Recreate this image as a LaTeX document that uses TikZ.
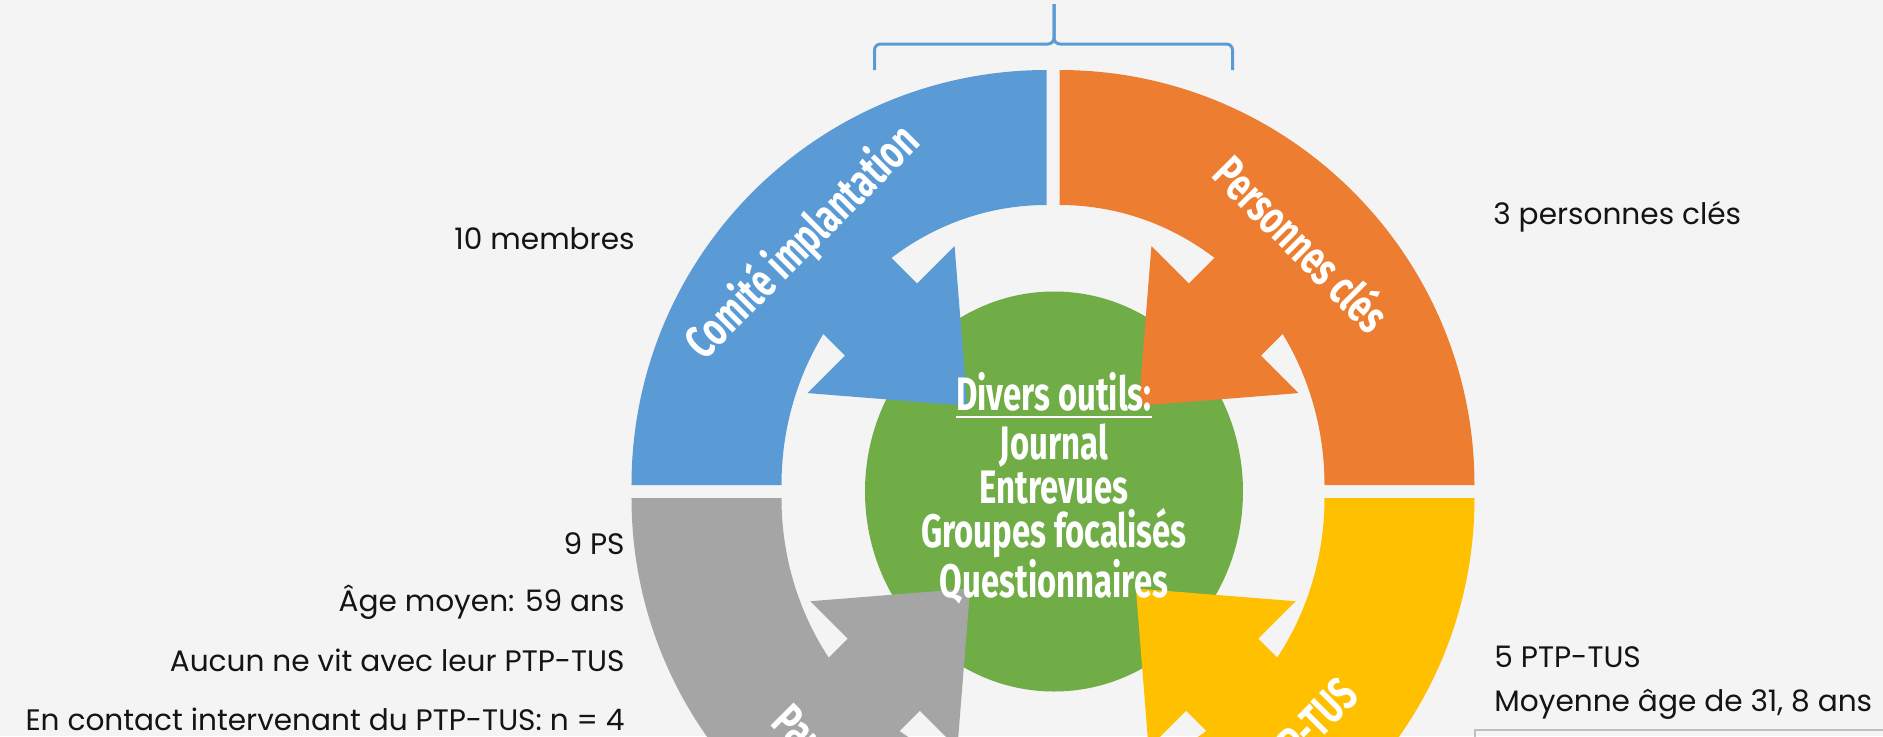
\documentclass[tikz,border=0pt]{standalone}
\usepackage{fontspec}
\setmainfont{Poppins}
\newfontfamily\narrowsans[FakeStretch=0.70]{Fira Sans}
\usepackage{tikz}
\usetikzlibrary{positioning}

\definecolor{officeblue}{HTML}{5B9BD5}
\definecolor{officeorange}{HTML}{ED7D31}
\definecolor{officegray}{HTML}{A5A5A5}
\definecolor{officegold}{HTML}{FFC000}
\definecolor{officegreen}{HTML}{70AD47}
\definecolor{paper}{HTML}{F4F4F4}

\newcommand{\hubul}[1]{\vtop{\hbox{#1}\kern2.2pt\hrule height 1.2pt}}

\tikzset{
  hubtext/.style={text=white, align=center, inner sep=0pt, font=\narrowsans\bfseries\fontsize{23.5}{22}\selectfont},
  bandtext/.style={text=white, inner sep=0pt, font=\narrowsans\bfseries\fontsize{23.5}{22}\selectfont},
  sidetext/.style={text=black!92, inner sep=0pt, font=\fontsize{14.8}{17}\selectfont},
  topbrace/.style={draw=officeblue, line width=1.5pt, rounded corners=3pt},
}

\begin{document}
\begin{tikzpicture}[x=0.5pt,y=0.5pt]
\useasboundingbox (-1053,-244.5) rectangle (830,491.5);
\clip (-1053,-244.5) rectangle (830,491.5);
\fill[paper] (-1053,-244.5) rectangle (830,491.5);

% hub
\fill[officegreen] (1,0) ellipse[x radius=189, y radius=200];

% ring quarters, each one bent into an arrow pointing at the hub
\begin{scope}[shift={(-6.5,6.5)}]
\fill[officeblue] (0,415) arc[start angle=90, end angle=180, radius=415] -- (-265,0) arc[start angle=180, end angle=90, x radius=265, y radius=280] -- cycle;
\fill[officeblue, rotate=135] (300,-51) -- (234,-51) -- (234,-104) -- (112,0) -- (234,104) -- (234,51) -- (300,51) -- cycle;
\end{scope}
\begin{scope}[shift={(6.5,6.5)}, xscale=-1]
\fill[officeorange] (0,415) arc[start angle=90, end angle=180, radius=415] -- (-265,0) arc[start angle=180, end angle=90, x radius=265, y radius=280] -- cycle;
\fill[officeorange, rotate=135] (300,-51) -- (234,-51) -- (234,-104) -- (112,0) -- (234,104) -- (234,51) -- (300,51) -- cycle;
\end{scope}
\begin{scope}[shift={(-6.5,-6.5)}, yscale=-1]
\fill[officegray] (0,415) arc[start angle=90, end angle=180, radius=415] -- (-265,0) arc[start angle=180, end angle=90, x radius=265, y radius=280] -- cycle;
\fill[officegray, shift={(2.8,11.3)}, rotate=135] (300,-51) -- (234,-51) -- (234,-104) -- (112,0) -- (234,104) -- (234,51) -- (300,51) -- cycle;
\end{scope}
\begin{scope}[shift={(6.5,-6.5)}, xscale=-1, yscale=-1]
\fill[officegold] (0,415) arc[start angle=90, end angle=180, radius=415] -- (-265,0) arc[start angle=180, end angle=90, x radius=265, y radius=280] -- cycle;
\fill[officegold, shift={(2.8,11.3)}, rotate=135] (300,-51) -- (234,-51) -- (234,-104) -- (112,0) -- (234,104) -- (234,51) -- (300,51) -- cycle;
\end{scope}

% labels on the ring
\node[bandtext, rotate=45] (comite) at (-250,249) {Comité implantation};
\node[bandtext, rotate=-45] (cles) at (250,249) {Personnes clés};
\node[bandtext, rotate=-45] (parents) at (-232,-262) {Parents};
\node[bandtext, rotate=45] (ptptus) at (252,-240) {PTP-TUS};

% hub text
\node[hubtext] (outils) at (1,3) {\hubul{Divers outils:}\\[2.5pt]Journal\\Entrevues\\Groupes focalisés\\Questionnaires};

% brace over the two upper quarters
\draw[topbrace] (-178.5,421.5) |- (1,447.5) -- (1,487.5);
\draw[topbrace] (179.5,421.5) |- (1,447.5) -- (1,487.5);

% side notes
\node[sidetext, anchor=base east] (membres) at (-418,242.5) {10 membres};
\node[sidetext, anchor=base west] (troiscles) at (440,267) {3 personnes clés};
\node[sidetext, anchor=base east] (ps) at (-428,-62.5) {9 PS};
\node[sidetext, anchor=base east] (age) at (-428,-120) {Âge moyen: 59 ans};
\node[sidetext, anchor=base east] (vit) at (-428,-180) {Aucun ne vit avec leur PTP-TUS};
\node[sidetext, anchor=base east] (contact) at (-428,-239) {En contact intervenant du PTP-TUS: n = 4};
\node[sidetext, anchor=base west] (cinq) at (441,-176) {5 PTP-TUS};
\node[sidetext, anchor=base west] (moyenne) at (441,-220) {Moyenne âge de 31, 8 ans};

% corner of the box below
\draw[black!25, line width=0.6pt] (422,-250) |- (840,-238.5);
\end{tikzpicture}
\end{document}
